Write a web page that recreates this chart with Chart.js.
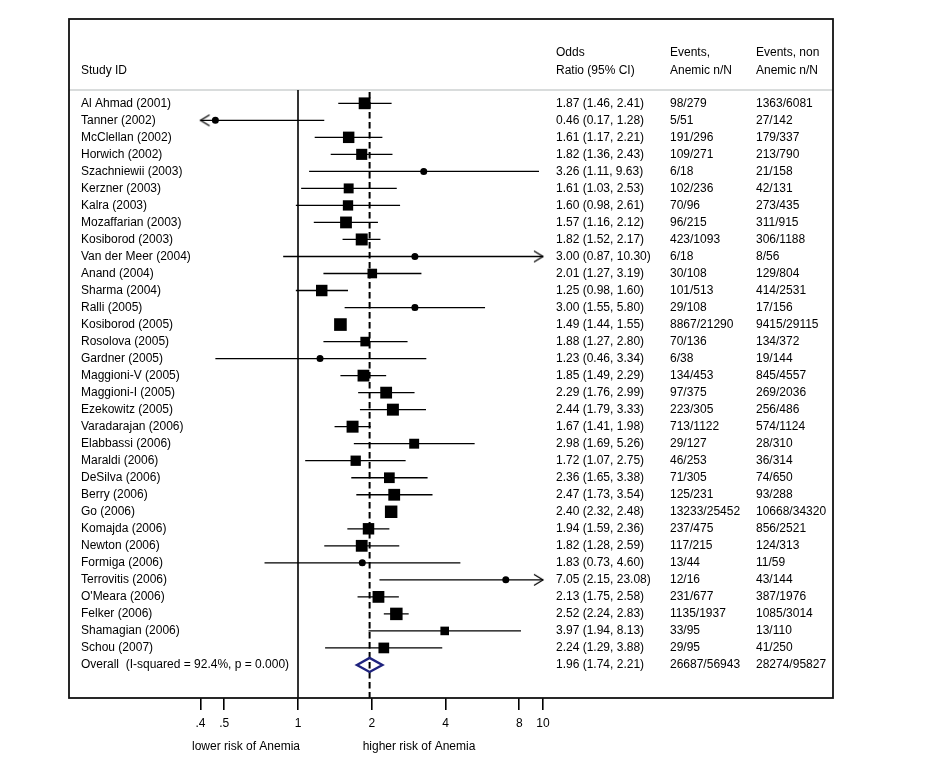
<!DOCTYPE html>
<html>
<head>
<meta charset="utf-8">
<script src="https://cdn.jsdelivr.net/npm/chart.js@4/dist/chart.umd.min.js"></script>
<style>
html,body{margin:0;padding:0;background:#fff;}
#wrap{width:937px;height:765px;}
</style>
</head>
<body>
<div id="wrap"><canvas id="c" width="937" height="765"></canvas></div>
<script>
// ---------------- data ----------------
const studies = ["Al Ahmad (2001)","Tanner (2002)","McClellan (2002)","Horwich (2002)","Szachniewii (2003)","Kerzner (2003)","Kalra (2003)","Mozaffarian (2003)","Kosiborod (2003)","Van der Meer (2004)","Anand (2004)","Sharma (2004)","Ralli (2005)","Kosiborod (2005)","Rosolova (2005)","Gardner (2005)","Maggioni-V (2005)","Maggioni-I (2005)","Ezekowitz (2005)","Varadarajan (2006)","Elabbassi (2006)","Maraldi (2006)","DeSilva (2006)","Berry (2006)","Go (2006)","Komajda (2006)","Newton (2006)","Formiga (2006)","Terrovitis (2006)","O'Meara (2006)","Felker (2006)","Shamagian (2006)","Schou (2007)"];
const oddsRatio = [1.87,0.46,1.61,1.82,3.26,1.61,1.60,1.57,1.82,3.00,2.01,1.25,3.00,1.49,1.88,1.23,1.85,2.29,2.44,1.67,2.98,1.72,2.36,2.47,2.40,1.94,1.82,1.83,7.05,2.13,2.52,3.97,2.24];
const ciLower = [1.46,0.17,1.17,1.36,1.11,1.03,0.98,1.16,1.52,0.87,1.27,0.98,1.55,1.44,1.27,0.46,1.49,1.76,1.79,1.41,1.69,1.07,1.65,1.73,2.32,1.59,1.28,0.73,2.15,1.75,2.24,1.94,1.29];
const ciUpper = [2.41,1.28,2.21,2.43,9.63,2.53,2.61,2.12,2.17,10.30,3.19,1.60,5.80,1.55,2.80,3.34,2.29,2.99,3.33,1.98,5.26,2.75,3.38,3.54,2.48,2.36,2.59,4.60,23.08,2.58,2.83,8.13,3.88];
const eventsAnemic = ["98/279","5/51","191/296","109/271","6/18","102/236","70/96","96/215","423/1093","6/18","30/108","101/513","29/108","8867/21290","70/136","6/38","134/453","97/375","223/305","713/1122","29/127","46/253","71/305","125/231","13233/25452","237/475","117/215","13/44","12/16","231/677","1135/1937","33/95","29/95"];
const eventsNonAnemic = ["1363/6081","27/142","179/337","213/790","21/158","42/131","273/435","311/915","306/1188","8/56","129/804","414/2531","17/156","9415/29115","134/372","19/144","845/4557","269/2036","256/486","574/1124","28/310","36/314","74/650","93/288","10668/34320","856/2521","124/313","11/59","43/144","387/1976","1085/3014","13/110","41/250"];
// study weights (%)
const weights = [3.4,0.6,3.2,3.0,0.6,2.4,2.6,3.4,3.5,0.5,2.25,3.2,0.7,3.9,2.25,0.5,3.4,3.4,3.5,3.5,2.4,2.6,2.8,3.4,3.8,3.2,3.4,0.6,0.5,3.4,3.8,1.8,2.8];
const overallLabel = "Overall  (I-squared = 92.4%, p = 0.000)";
const overallOR = 1.96, overallLower = 1.74, overallUpper = 2.21;
const overallEventsAnemic = "26687/56943";
const overallEventsNonAnemic = "28274/95827";
const tickValues = [0.4,0.5,1,2,4,8,10];
const tickLabels = [".4",".5","1","2","4","8","10"];
const axisMin = 0.4, axisMax = 10;

// ---------------- derived ----------------
const n = studies.length;
const overallRow = n;
const FONT = "12px 'Liberation Sans', Arial, sans-serif";
const fmt = v => v.toFixed(2);

const ciData = [];
const boxData = [], boxRadius = [];
const dotData = [];
const leftArrows = [], rightArrows = [];
for (let i = 0; i < n; i++) {
  const lo = Math.max(ciLower[i], axisMin), hi = Math.min(ciUpper[i], axisMax);
  ciData.push({x: lo, y: i}, {x: hi, y: i}, {x: hi, y: null});
  boxData.push({x: oddsRatio[i], y: i});
  boxRadius.push(6.4 * Math.sqrt(weights[i]) / Math.SQRT2);
  dotData.push({x: oddsRatio[i], y: i});
  if (ciLower[i] < axisMin) leftArrows.push({x: axisMin, y: i});
  if (ciUpper[i] > axisMax) rightArrows.push({x: axisMax, y: i});
}

function arrowImg(dir) {
  const c = document.createElement('canvas');
  c.width = 20; c.height = 14;
  const g = c.getContext('2d');
  g.strokeStyle = '#000'; g.lineWidth = 1.3;
  g.beginPath();
  if (dir < 0) { g.moveTo(19, 1.5); g.lineTo(10, 7); g.lineTo(19, 12.5); }
  else { g.moveTo(1, 1.5); g.lineTo(10, 7); g.lineTo(1, 12.5); }
  g.stroke();
  return c;
}

// layout: box 69..833 x 19..698 ; rows at 103.3 + 17.02*i
const BOX = {l: 69, r: 833, t: 19, b: 698};
const rowTop = 103.3, rowStep = 17.02;
const yMin = (BOX.t - rowTop) / rowStep;
const yMax = (BOX.b - rowTop) / rowStep;
const pxPerDecade = 245, xOne = 298;
const xMin = Math.pow(10, -(xOne - BOX.l) / pxPerDecade);
const xMax = Math.pow(10, (BOX.r - xOne) / pxPerDecade);

const forestPlugin = {
  id: 'forest',
  beforeDraw(chart) {
    const ctx = chart.ctx;
    ctx.save();
    ctx.fillStyle = '#fff';
    ctx.fillRect(0, 0, chart.width, chart.height);
    ctx.restore();
  },
  beforeDatasetsDraw(chart) {
    const {ctx, chartArea: a, scales: {x, y}} = chart;
    ctx.save();
    // header separator
    const sepY = y.getPixelForValue(-0.78);
    ctx.strokeStyle = '#d9dcdc'; ctx.lineWidth = 2;
    ctx.beginPath(); ctx.moveTo(a.left, sepY); ctx.lineTo(a.right, sepY); ctx.stroke();
    // null line at OR = 1
    const x1 = x.getPixelForValue(1);
    ctx.strokeStyle = '#000'; ctx.lineWidth = 1.6;
    ctx.beginPath(); ctx.moveTo(x1, sepY); ctx.lineTo(x1, a.bottom); ctx.stroke();
    // overall dashed line
    const xo = x.getPixelForValue(overallOR);
    ctx.lineWidth = 2; ctx.setLineDash([6.5, 3.5]);
    ctx.beginPath(); ctx.moveTo(xo, sepY + 2); ctx.lineTo(xo, a.bottom); ctx.stroke();
    ctx.restore();
  },
  afterDatasetsDraw(chart) {
    const {ctx, chartArea: a, scales: {x, y}} = chart;
    ctx.save();
    // overall diamond
    const yc = y.getPixelForValue(overallRow);
    const xl = x.getPixelForValue(overallLower), xc = x.getPixelForValue(overallOR), xr = x.getPixelForValue(overallUpper);
    ctx.strokeStyle = '#1f237e'; ctx.lineWidth = 2.4; ctx.lineJoin = 'miter';
    ctx.beginPath();
    ctx.moveTo(xl, yc); ctx.lineTo(xc, yc - 7); ctx.lineTo(xr, yc); ctx.lineTo(xc, yc + 7); ctx.closePath();
    ctx.stroke();
    // texts
    ctx.fillStyle = '#000'; ctx.font = FONT; ctx.textBaseline = 'middle'; ctx.textAlign = 'left';
    const colStudy = 81, colOR = 556, colEA = 670, colEN = 756;
    const yh1 = y.getPixelForValue(-2.95), yh2 = y.getPixelForValue(-1.93);
    ctx.fillText('Study ID', colStudy, yh2);
    ctx.fillText('Odds', colOR, yh1);
    ctx.fillText('Ratio (95% CI)', colOR, yh2);
    ctx.fillText('Events,', colEA, yh1);
    ctx.fillText('Anemic n/N', colEA, yh2);
    ctx.fillText('Events, non', colEN, yh1);
    ctx.fillText('Anemic n/N', colEN, yh2);
    for (let i = 0; i < n; i++) {
      const yy = y.getPixelForValue(i);
      ctx.fillText(studies[i], colStudy, yy);
      ctx.fillText(fmt(oddsRatio[i]) + ' (' + fmt(ciLower[i]) + ', ' + fmt(ciUpper[i]) + ')', colOR, yy);
      ctx.fillText(eventsAnemic[i], colEA, yy);
      ctx.fillText(eventsNonAnemic[i], colEN, yy);
    }
    ctx.fillText(overallLabel, colStudy, yc);
    ctx.fillText(fmt(overallOR) + ' (' + fmt(overallLower) + ', ' + fmt(overallUpper) + ')', colOR, yc);
    ctx.fillText(overallEventsAnemic, colEA, yc);
    ctx.fillText(overallEventsNonAnemic, colEN, yc);
    // frame
    ctx.strokeStyle = '#111'; ctx.lineWidth = 1.8;
    ctx.strokeRect(a.left, a.top, a.right - a.left, a.bottom - a.top);
    // axis captions
    ctx.textAlign = 'center';
    ctx.fillText('lower risk of Anemia', 246, 746.5);
    ctx.fillText('higher risk of Anemia', 419, 746.5);
    ctx.restore();
  }
};

new Chart(document.getElementById('c'), {
  type: 'scatter',
  data: {
    datasets: [
      {label: 'CI', data: ciData, showLine: true, borderColor: '#000', borderWidth: 1.3, pointRadius: 0, spanGaps: false, order: 3},
      {label: 'weight', data: boxData, pointStyle: 'rect', pointRadius: boxRadius, backgroundColor: '#000', borderWidth: 0, order: 2},
      {label: 'estimate', data: dotData, pointStyle: 'circle', pointRadius: 3.5, backgroundColor: '#000', borderWidth: 0, order: 1},
      {label: 'left', data: leftArrows, pointStyle: arrowImg(-1), order: 0},
      {label: 'right', data: rightArrows, pointStyle: arrowImg(1), order: 0}
    ]
  },
  options: {
    responsive: false,
    animation: false,
    events: [],
    layout: {padding: {left: BOX.l, right: 937 - BOX.r, top: BOX.t, bottom: 0}},
    plugins: {legend: {display: false}, tooltip: {enabled: false}},
    scales: {
      x: {
        type: 'logarithmic',
        min: xMin, max: xMax,
        bounds: 'data',
        afterBuildTicks: s => { s.ticks = tickValues.map(v => ({value: v})); },
        afterFit: s => { s.height = 765 - BOX.b; },
        ticks: {
          autoSkip: false, maxRotation: 0, padding: 6,
          color: '#000', font: {family: "'Liberation Sans', Arial, sans-serif", size: 12},
          callback: (v, i) => tickLabels[i]
        },
        grid: {display: true, drawOnChartArea: false, drawTicks: true, tickLength: 12, color: '#000', lineWidth: 1.6},
        border: {display: false}
      },
      y: {type: 'linear', reverse: true, min: yMin, max: yMax, display: false}
    }
  },
  plugins: [forestPlugin]
});
</script>
</body>
</html>
